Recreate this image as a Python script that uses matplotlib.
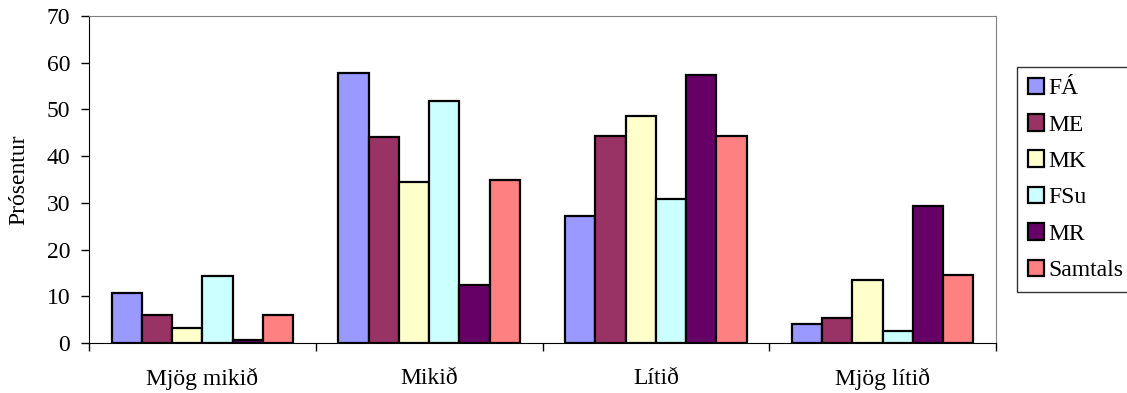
import numpy as np
import matplotlib
matplotlib.use("Agg")
import matplotlib.pyplot as plt

plt.rcParams['font.family'] = ['Liberation Serif', 'DejaVu Serif']

# gögn lesin af myndinni
categories = ["Mjög mikið", "Mikið", "Lítið", "Mjög lítið"]
series_names = ["FÁ", "ME", "MK", "FSu", "MR", "Samtals"]
fa = [10.8, 57.9, 27.1, 4.0]
me = [6.1, 44.0, 44.4, 5.4]
mk = [3.2, 34.4, 48.6, 13.4]
fsu = [14.4, 51.9, 30.9, 2.6]
mr = [0.7, 12.4, 57.4, 29.3]
samtals = [6.1, 34.9, 44.4, 14.6]
colors = ["#9999FF", "#993366", "#FFFFCC", "#CCFFFF", "#660066", "#FF8080"]

series = [fa, me, mk, fsu, mr, samtals]
fs = 17

fig = plt.figure(figsize=(11.27, 3.93), dpi=100)
ax = fig.add_axes([89 / 1127, 1 - 343 / 393, (996 - 89) / 1127, (343 - 16) / 393])

n = len(series)
width = 0.8 / n
x = np.arange(len(categories))
for i, (vals, name, col) in enumerate(zip(series, series_names, colors)):
    ax.bar(x - 0.4 + width * (i + 0.5), vals, width, color=col,
           edgecolor="black", linewidth=1.6, label=name, zorder=3)

ax.set_xlim(-0.5, len(categories) - 0.5)
ax.set_ylim(0, 70)
ax.set_yticks(range(0, 71, 10))
ax.tick_params(axis="y", direction="out", length=6, width=1, labelsize=fs, pad=7.5)

# tick á mörkum flokka, nöfn í miðju
ax.set_xticks(np.arange(len(categories) + 1) - 0.5)
ax.set_xticklabels([])
ax.tick_params(axis="x", which="major", direction="out", length=6, width=1)
ax.set_xticks(x, minor=True)
ax.set_xticklabels(categories, minor=True, fontsize=fs)
ax.tick_params(axis="x", which="minor", length=0, pad=18)

ax.set_ylabel("Prósentur", fontsize=fs)
ax.yaxis.set_label_coords(-0.066, 0.5)

for side in ["top", "right"]:
    ax.spines[side].set_color("#808080")
for side in ["left", "bottom"]:
    ax.spines[side].set_color("black")

leg = fig.legend(loc="upper left", bbox_to_anchor=(1017 / 1127, 1 - 67 / 393),
                 fontsize=fs, frameon=True, fancybox=False, edgecolor="black",
                 handlelength=0.7, handleheight=0.7, handletextpad=0.17,
                 labelspacing=0.63, borderpad=0.45, borderaxespad=0)
leg.get_frame().set_linewidth(1)

fig.savefig("out.png", dpi=100)
